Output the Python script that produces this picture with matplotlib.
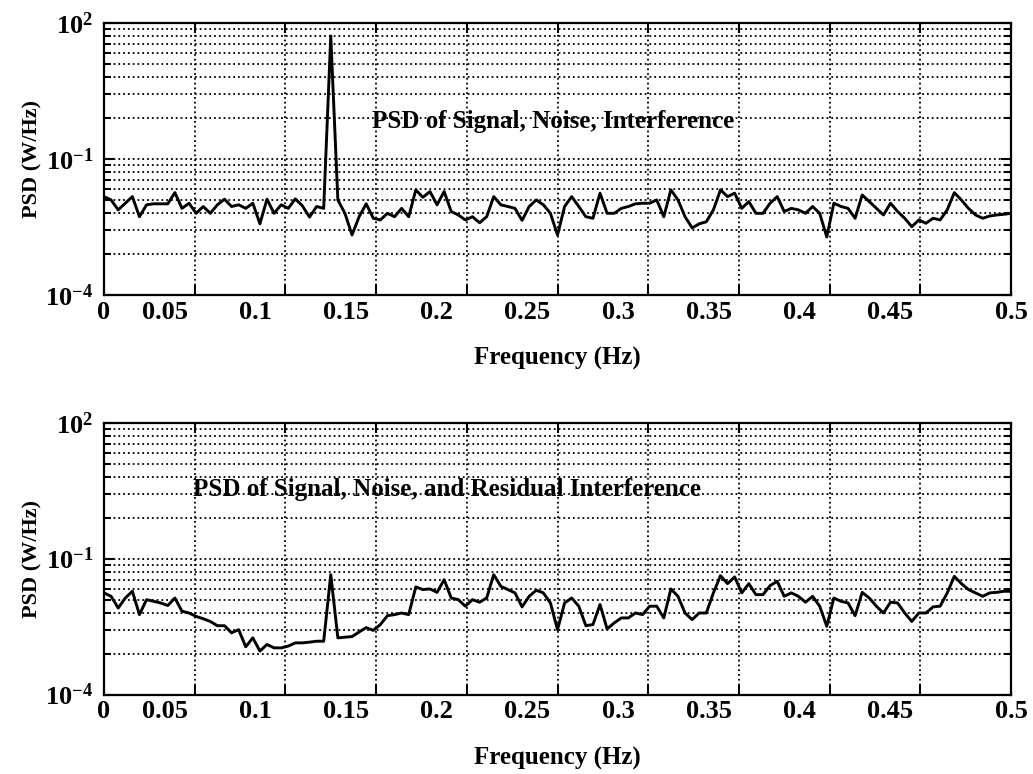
import matplotlib
matplotlib.use('Agg')
import matplotlib.pyplot as plt
import matplotlib.transforms as mtransforms
import numpy as np

plt.rcParams['font.family'] = 'Liberation Serif'
plt.rcParams['font.weight'] = 'bold'
plt.rcParams['mathtext.fontset'] = 'custom'
plt.rcParams['mathtext.rm'] = 'Liberation Serif:bold'
plt.rcParams['mathtext.bf'] = 'Liberation Serif:bold'

# 129 frequency bins, 0 .. 0.5 Hz (bin width 1/256)
nbins = 129
freq = np.arange(nbins) / 256.0

psd_before = [
    0.0147, 0.0124, 0.0075, 0.0105, 0.0147, 0.0053, 0.0097, 0.0102, 0.0102, 0.0102,
    0.018, 0.0081, 0.0105, 0.0063, 0.0089, 0.0063, 0.0097, 0.0129, 0.0089, 0.0097,
    0.0081, 0.0105, 0.0037, 0.0129, 0.0063, 0.0097, 0.0081, 0.0131, 0.0092, 0.0052,
    0.0089, 0.0081, 51.0, 0.0124, 0.0063, 0.0021, 0.0053, 0.0102, 0.0049, 0.0045,
    0.0063, 0.0053, 0.0081, 0.0053, 0.0207, 0.0142, 0.019, 0.0097, 0.019, 0.0069,
    0.0058, 0.0045, 0.0053, 0.0039, 0.0053, 0.0147, 0.0097, 0.0089, 0.0081, 0.0044,
    0.0089, 0.0124, 0.0097, 0.0063, 0.0021, 0.0089, 0.0147, 0.0089, 0.0053, 0.0049,
    0.0175, 0.0063, 0.0063, 0.0081, 0.0089, 0.0102, 0.0105, 0.0105, 0.0124, 0.0053,
    0.0207, 0.0124, 0.0053, 0.003, 0.0037, 0.0041, 0.0075, 0.0207, 0.0147, 0.0175,
    0.0081, 0.0114, 0.0063, 0.0063, 0.0105, 0.0147, 0.0069, 0.0081, 0.0075, 0.0063,
    0.0089, 0.0063, 0.0019, 0.0105, 0.0089, 0.0081, 0.0049, 0.016, 0.0114, 0.0081,
    0.0058, 0.0105, 0.0069, 0.0049, 0.0032, 0.0045, 0.0038, 0.0049, 0.0045, 0.0075,
    0.018, 0.0124, 0.0081, 0.0058, 0.0049, 0.0055, 0.0058, 0.006, 0.0063]

psd_after = [
    0.0175, 0.0147, 0.0081, 0.0135, 0.019, 0.0058, 0.0124, 0.0114, 0.0105, 0.0092,
    0.0135, 0.0069, 0.0063, 0.0053, 0.0047, 0.0041, 0.0033, 0.0033, 0.0023, 0.0027,
    0.00113, 0.00178, 0.00091, 0.00127, 0.00107, 0.00107, 0.00117, 0.00138, 0.00138, 0.00143,
    0.0015, 0.0015, 0.0442, 0.00178, 0.00184, 0.0019, 0.0024, 0.003, 0.0026, 0.0035,
    0.0055, 0.0058, 0.0063, 0.0058, 0.0237, 0.0207, 0.0214, 0.018, 0.0343, 0.0135,
    0.0124, 0.0089, 0.0124, 0.0109, 0.0135, 0.0442, 0.0245, 0.0207, 0.0175, 0.0086,
    0.0147, 0.02, 0.0175, 0.0105, 0.0027, 0.0105, 0.0135, 0.0089, 0.0033, 0.0035,
    0.0097, 0.0028, 0.0038, 0.0049, 0.0049, 0.0063, 0.0058, 0.0089, 0.0089, 0.0049,
    0.0214, 0.0147, 0.0063, 0.0045, 0.0063, 0.0063, 0.0175, 0.042, 0.028, 0.0393,
    0.0175, 0.028, 0.016, 0.016, 0.0253, 0.0315, 0.0147, 0.0175, 0.0147, 0.0109,
    0.0147, 0.0089, 0.0032, 0.0135, 0.0114, 0.0105, 0.0055, 0.018, 0.0135, 0.0089,
    0.0063, 0.0109, 0.0105, 0.0063, 0.0041, 0.0063, 0.0063, 0.0086, 0.0089, 0.0175,
    0.0406, 0.028, 0.0207, 0.0175, 0.0147, 0.0175, 0.018, 0.019, 0.019]

xticks = [0, 0.05, 0.1, 0.15, 0.2, 0.25, 0.3, 0.35, 0.4, 0.45, 0.5]
xticklabels = ['0', '0.05', '0.1', '0.15', '0.2', '0.25', '0.3', '0.35', '0.4', '0.45', '0.5']
yticks = [1e-4, 1e-1, 1e2]
yticklabels = [r'$\mathbf{10^{-4}}$', r'$\mathbf{10^{-1}}$', r'$\mathbf{10^{2}}$']
# MATLAB style minor ticks for a 3-decade major spacing: 10^e * k^3
yminor = [b * k ** 3 for b in (1e-4, 1e-1) for k in range(2, 10)]

titles = ['PSD of Signal, Noise, Interference',
          'PSD of Signal, Noise, and Residual Interference']
title_pos = [(0.1475, 0.68), (0.049, 3.3)]

fig = plt.figure(figsize=(10.33, 7.74), dpi=100)
ax1 = fig.add_axes([0.1007, 0.6189, 0.878, 0.3518])
ax2 = fig.add_axes([0.1007, 0.1027, 0.878, 0.3512])

# the old printout has the inner x labels sitting left of their ticks
shift = mtransforms.ScaledTranslation(-0.30, 0, fig.dpi_scale_trans)

for ax, psd, txt, pos in zip([ax1, ax2], [psd_before, psd_after], titles, title_pos):
    ax.set_yscale('log')
    ax.plot(freq, psd, color='black', lw=2.1)
    ax.set_xlim(0, 0.5)
    ax.set_ylim(1e-4, 1e2)
    ax.set_xticks(xticks)
    ax.set_xticklabels(xticklabels)
    ax.set_yticks(yticks)
    ax.set_yticklabels(yticklabels)
    ax.set_yticks(yminor, minor=True)
    ax.set_yticklabels([], minor=True)
    ax.tick_params(which='both', direction='in', top=True, right=True,
                   labelsize=19, width=1.5)
    ax.tick_params(which='major', length=7)
    ax.tick_params(axis='x', which='major', pad=4)
    ax.tick_params(axis='y', which='major', pad=8)
    ax.tick_params(which='minor', length=5)
    for lab in ax.get_xticklabels()[1:-1]:
        lab.set_transform(lab.get_transform() + shift)
    ax.grid(True, which='major', axis='both', color='black', ls=':', lw=1.3)
    ax.grid(True, which='minor', axis='y', color='black', ls=':', lw=1.3)
    for s in ax.spines.values():
        s.set_linewidth(1.6)
    ax.set_xlabel('Frequency (Hz)', fontsize=18, fontweight='bold', labelpad=17)
    ax.set_ylabel('PSD (W/Hz)', fontsize=16, fontweight='bold', labelpad=2)
    ax.text(pos[0], pos[1], txt, fontsize=18, fontweight='bold',
            ha='left', va='center')

fig.savefig('out.png', dpi=100)
